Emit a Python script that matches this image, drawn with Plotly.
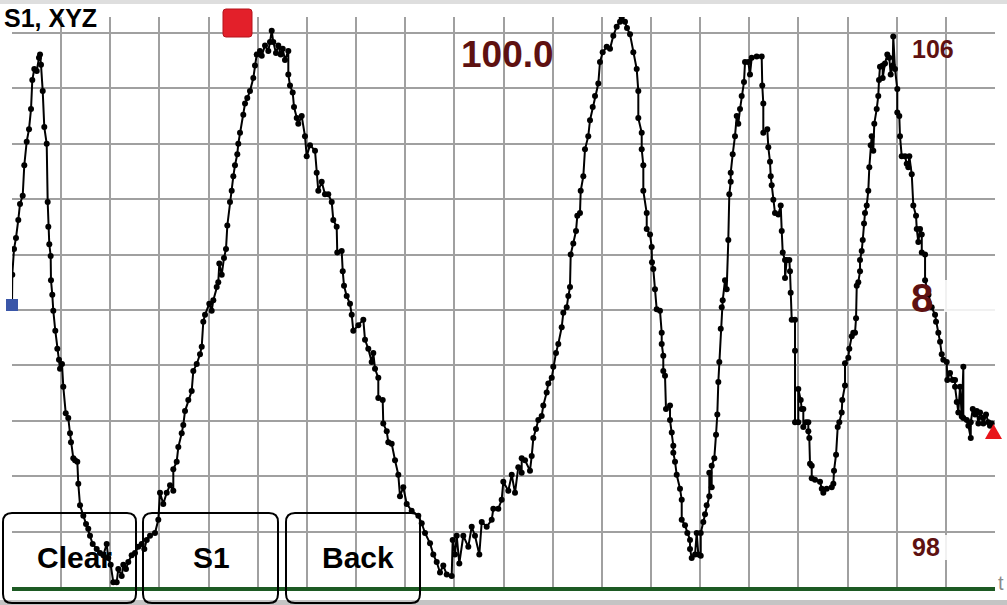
import plotly.graph_objects as go

# ---------------- data (time in s, level) ----------------
t_sec = [
    0, 0.06, 0.41, 0.81, 1.28, 1.63, 2.18, 2.50, 2.99, 3.46, 3.87, 4.13, 4.54, 5.03, 5.49, 5.70, 5.90,
    6.25, 6.57, 7.06, 7.26, 7.39, 7.59, 7.87, 7.93, 8.20, 8.40, 8.81, 9.22, 9.56, 9.77, 10.17, 10.44,
    10.93, 11.45, 11.80, 12.00, 12.47, 12.82, 13.29, 13.49, 13.84, 14.51, 15.06, 15.52, 15.87, 16.42,
    17.23, 17.90, 18.58, 19.27, 19.59, 20.08, 20.61, 21.30, 21.63, 22.32, 22.65, 23.19, 23.66, 24.35,
    25.03, 25.70, 26.39, 26.92, 27.41, 28.08,
    29.09, 29.77, 30.11, 30.78, 31.48, 32.15, 32.82, 32.82, 33.51, 33.84, 34.53, 34.85, 35.20, 35.87,
    36.56, 36.89, 37.58, 38.25, 38.60, 38.92, 39.27, 40.14, 40.63, 40.96, 41.65, 41.97, 42.18, 42.67,
    43.13, 43.54, 43.81, 44.35, 44.70, 45.03, 45.37, 45.84, 46.04, 46.39, 47.06, 47.41, 47.87, 48.42,
    49.10, 49.44, 49.79, 50.46, 50.81, 51.48, 52.15, 52.49, 52.84, 53.16, 53.71, 54.18, 54.67, 55.08,
    55.54, 56.22, 56.22, 56.56, 57.11, 57.38, 57.93, 58.25,
    58.94, 59.61, 59.96, 60.63, 61.65, 61.99, 62.32, 63.01, 63.68, 64.35, 65.05, 65.37, 66.06, 66.18,
    67.08, 67.29, 67.55, 68.10, 68.77, 69.12, 69.44, 70.46, 71.48, 71.82, 72.49, 73.18, 73.51, 73.86,
    74.53, 74.53, 75.42, 75.54, 76.24, 76.56, 77.25, 77.93, 78.60, 78.94, 79.61, 80.31, 81.32, 82.67,
    83.36, 84.03, 85.05, 85.72, 86.41, 87.08, 87.75, 88.45,
    89.46, 89.66, 90.13, 90.48, 91.01, 91.82, 92.84, 93.53, 94.20, 95.08, 95.57, 96.58, 97.60, 97.93,
    98.94, 99.63, 99.96, 100.98, 101.67, 102.34, 103.01, 103.70, 103.70, 104.38, 105.39, 105.74,
    106.07, 106.61, 107.08, 107.77, 108.10, 108.79, 109.12, 109.81, 110.13, 110.68, 111.15, 111.84,
    112.17, 112.86, 113.19, 113.53, 113.67, 114.20, 114.75, 115.02, 115.56, 115.71, 116.24, 116.58,
    117.25, 117.60, 118.15, 118.62, 119.29, 119.63, 120.18, 121.00, 121.67, 122.34, 123.03, 123.70,
    124.05, 124.72, 125.13,
    125.74, 126.41, 127.10, 127.43, 127.43, 128.12, 128.12, 128.45, 128.45, 129.14, 129.14, 129.81,
    130.15, 130.21, 130.48, 130.82, 131.17, 131.84, 132.19, 132.19, 132.51, 132.51, 132.86, 133.06,
    133.88, 133.88, 134.23, 134.55, 134.55, 134.90, 135.24, 135.91, 136.26, 136.26, 136.93, 137.40,
    137.95, 137.95, 138.29, 138.97, 139.31, 139.64, 140.13, 140.13, 140.65, 141.00, 141.34, 141.87,
    141.87, 142.36, 142.36, 142.89, 143.24, 143.50, 143.71, 143.91, 144.20, 144.40, 144.60, 145.07,
    145.41, 145.74, 145.94, 146.23, 146.23, 146.63, 147.10, 147.45, 147.77, 148.12, 148.46, 148.93,
    149.14, 149.81, 150.15, 150.50, 151.51, 152.53, 152.65, 152.86, 152.86, 153.67, 153.88, 154.22,
    154.37, 154.57, 154.90, 155.24, 155.92, 156.40, 156.61, 156.81, 157.28, 157.28, 157.62, 158.15,
    158.29, 158.43, 158.64, 159.31, 159.31, 159.31, 159.98, 159.98, 160.47, 160.67, 161.00, 161.00,
    161.55, 162.02, 162.02, 162.22, 162.36, 162.71, 162.71, 163.38,
    164.40, 164.75, 165.07, 165.76, 166.78, 167.11, 167.25, 167.66, 168.00, 168.33, 168.81, 168.93,
    169.48, 169.48, 170.15, 170.36, 170.85, 171.17, 171.52, 171.73, 171.87, 172.19, 172.54, 172.54,
    172.88, 173.09, 173.35, 173.55, 173.90, 174.22, 174.43, 174.71, 174.91, 175.24, 175.44, 175.93,
    176.25, 176.40, 176.60, 177.15, 177.15, 177.62, 178.09, 178.49, 178.78, 179.18, 179.30, 179.65,
    180.12, 180.12, 180.53, 180.67, 181.02, 181.69, 182.04, 182.36, 182.57, 183.06, 183.38, 183.93,
    184.08, 184.40, 184.75, 185.10, 185.10, 185.77, 185.77, 186.47, 187.12, 187.80, 188.00, 188.47,
    188.82, 189.16, 189.49, 190.18, 190.30, 190.85, 191.40, 191.87, 191.87, 192.22, 192.54, 192.89,
    193.23, 193.56, 193.56, 194.25, 194.58, 195.07, 195.07, 195.48, 195.95, 196.29, 196.62, 196.96,
    197.51, 197.63, 198.17, 198.64, 198.98, 199.33,
]

level = [
    102.07, 102.51, 102.88, 103.04, 103.30, 103.53, 103.65, 104.09, 104.43, 104.61, 104.90, 105.32, 105.48, 105.45, 105.64, 105.69, 105.54,
    105.16, 104.64, 104.40, 103.56, 103.20, 102.95, 102.78, 102.43, 102.22, 101.99, 101.70, 101.44, 101.28, 101.15, 101.22, 100.89,
    100.51, 100.44, 100.22, 100.09, 99.86, 99.83, 99.81, 99.49, 99.18, 99.03, 98.91, 98.84, 98.74, 98.62,
    98.55, 98.49, 98.46, 98.62, 98.42, 98.32, 98.07, 98.07, 98.26, 98.16, 98.32, 98.26, 98.36, 98.46,
    98.49, 98.58, 98.62, 98.55, 98.68, 98.74,
    98.78, 98.97, 99.36, 99.20, 99.36, 99.47, 99.39, 99.70, 99.81, 100.02, 100.22, 100.34, 100.54, 100.70,
    100.83, 101.12, 101.22, 101.36, 101.47, 101.83, 101.93, 102.09, 101.99, 102.14, 102.33, 102.40, 102.67, 102.51,
    102.75, 102.88, 103.22, 103.56, 103.72, 103.93, 104.09, 104.25, 104.40, 104.56, 104.82, 104.98, 105.06, 105.16,
    105.35, 105.53, 105.69, 105.74, 105.67, 105.82, 105.74, 105.87, 106.03, 105.87, 105.71, 105.82, 105.69, 105.77,
    105.61, 105.74, 105.40, 105.24, 105.14, 104.93, 104.77, 104.69,
    104.80, 104.51, 104.22, 104.38, 104.30, 103.98, 103.72, 103.85, 103.67, 103.67, 103.56, 103.30, 103.20, 102.83,
    102.85, 102.56, 102.35, 102.20, 102.09, 101.93, 101.70, 101.78, 101.86, 101.57, 101.44, 101.25, 101.38, 101.15,
    101.02, 100.73, 100.70, 100.36, 100.25, 100.09, 100.07, 99.83, 99.62, 99.31, 99.44, 99.20, 99.10, 99.03,
    98.92, 98.78, 98.63, 98.47, 98.36, 98.21, 98.31, 98.18,
    98.16, 98.68, 98.47, 98.74, 98.34, 98.74, 98.58, 98.87, 98.74, 98.47, 98.94, 98.87, 98.97, 99.13,
    99.13, 99.26, 99.52, 99.39, 99.62, 99.36, 99.73, 99.65, 99.86, 99.83, 99.68, 99.89,
    100.15, 100.28, 100.41, 100.47, 100.62, 100.81, 100.94, 101.02, 101.18, 101.38, 101.51, 101.75,
    101.96, 102.04, 102.20, 102.33, 102.80, 102.96, 103.14, 103.36, 103.40, 103.72, 103.93, 104.32,
    104.51, 104.74, 104.93, 105.09, 105.27, 105.58, 105.72, 105.80, 105.77, 105.96, 106.09, 106.16,
    106.22, 106.16, 106.07,
    105.98, 105.72, 105.48, 105.16, 104.77, 104.56, 104.32, 104.09, 103.72, 103.40, 103.17, 103.09,
    102.91, 102.69, 102.59, 102.30, 102.01, 101.99, 101.67, 101.51, 101.34, 101.12, 101.05, 100.57,
    100.62, 100.41, 100.23, 100.04, 99.94, 99.81, 99.62, 99.42, 99.26, 98.97, 98.89, 98.78,
    98.68, 98.55, 98.42, 98.47, 98.78, 98.47, 98.45, 98.78, 98.94, 99.05, 99.18, 99.31,
    99.65, 99.44, 99.75, 99.86, 100.20, 100.49, 100.96, 101.25, 101.73, 102.04, 102.14, 102.43,
    102.30, 103.01, 103.67, 103.85, 103.98, 104.25, 104.51, 104.80, 104.69, 104.90, 105.09, 105.29,
    105.58, 105.58, 105.40, 105.64, 105.66, 105.66, 105.24, 104.98, 104.56, 104.61, 104.35, 104.14,
    103.93, 103.80, 103.59, 103.40, 103.38, 103.51, 103.14, 102.83, 102.72, 102.46, 102.72, 102.72,
    102.56, 102.25, 101.86, 101.86, 101.41, 100.38, 100.38, 100.86, 100.70, 100.57, 100.57, 100.31,
    100.38, 100.38, 100.25, 100.15, 99.78, 99.75, 99.57, 99.55,
    99.52, 99.42, 99.36, 99.42, 99.44, 99.49, 99.68, 99.91, 100.31, 100.38, 100.52, 100.70,
    100.91, 101.23, 101.31, 101.44, 101.62, 101.67, 101.67, 101.88, 102.35, 102.40, 102.56, 102.72,
    102.85, 103.01, 103.25, 103.40, 103.51, 103.72, 104.06, 104.38, 104.51, 104.30, 104.69, 104.90,
    105.09, 105.32, 105.51, 105.53, 105.35, 105.56, 105.69, 105.64, 105.40, 105.53, 105.95, 105.48,
    105.19, 104.85, 104.80, 104.51, 104.22, 104.22, 104.11, 104.06, 104.22, 103.96, 103.51, 103.36,
    103.17, 102.98, 103.17, 103.09, 102.83, 102.80, 102.43, 102.22, 102.04, 101.93, 101.83, 101.67,
    101.54, 101.36, 101.28, 101.25, 100.99, 101.09, 100.99, 100.99, 100.89, 100.67, 100.52, 100.89,
    100.46, 101.18, 100.44, 100.41, 100.33, 100.15, 100.38, 100.57, 100.49, 100.54, 100.36, 100.52,
    100.44, 100.36, 100.49, 100.38, 100.33, 100.36,
]

title_text = "S1, XYZ"
current_value = "100.0"
scale_max_label = "106"
scale_min_label = "98"
side_label = "8"
axis_label = "t"
buttons = ["Clear", "S1", "Back"]

X_RANGE = [0, 200]
Y_RANGE = [98, 106.23]

# ---------------- figure ----------------
W, H = 1007, 605
L, R, T, B = 12, 12, 17, 18
PW, PH = W - L - R, H - T - B


def px2paper(px, py):
    return (px - L) / PW, (H - B - py) / PH


def rounded_rect(px0, py0, px1, py1, r):
    x0, y0 = px2paper(px0, py1)
    x1, y1 = px2paper(px1, py0)
    rx, ry = r / PW, r / PH
    return (f"M {x0+rx},{y0} L {x1-rx},{y0} Q {x1},{y0} {x1},{y0+ry} "
            f"L {x1},{y1-ry} Q {x1},{y1} {x1-rx},{y1} L {x0+rx},{y1} "
            f"Q {x0},{y1} {x0},{y1-ry} L {x0},{y0+ry} Q {x0},{y0} {x0+rx},{y0} Z")


fig = go.Figure()
fig.add_trace(go.Scatter(
    x=t_sec, y=level, mode="lines+markers",
    line=dict(color="black", width=2),
    marker=dict(color="black", size=6),
    hoverinfo="skip", showlegend=False,
))

shapes = []
x0, _ = px2paper(0, 0)
x1, _ = px2paper(W, 0)
shapes.append(dict(type="rect", xref="paper", yref="paper", x0=x0, x1=x1,
                   y0=px2paper(0, 0)[1], y1=px2paper(0, 4)[1], fillcolor="#dedede", line_width=0, layer="below"))
shapes.append(dict(type="rect", xref="paper", yref="paper", x0=x0, x1=x1,
                   y0=px2paper(0, 600)[1], y1=px2paper(0, 605)[1], fillcolor="#c4c4c4", line_width=0))
for (a, b, c, d) in [(955, 35, 995, 62), (944, 280, 996, 312), (943, 535, 996, 560)]:
    xa, ya = px2paper(a, d)
    xb, yb = px2paper(c, b)
    shapes.append(dict(type="rect", xref="paper", yref="paper", x0=xa, x1=xb, y0=ya, y1=yb,
                       fillcolor="rgba(255,255,255,0.85)", line_width=0))
for (a, c) in [(3, 136), (143, 278), (286, 420)]:
    shapes.append(dict(type="path", xref="paper", yref="paper", path=rounded_rect(a, 513, c, 603, 9),
                       line=dict(color="black", width=2), fillcolor="rgba(0,0,0,0)"))
shapes.append(dict(type="path", xref="paper", yref="paper", path=rounded_rect(223, 9, 252, 37, 3),
                   line=dict(color="#b5121b", width=1), fillcolor="#e3202a"))
xa, ya = px2paper(6, 311)
xb, yb = px2paper(18, 299)
shapes.append(dict(type="rect", xref="paper", yref="paper", x0=xa, x1=xb, y0=ya, y1=yb,
                   fillcolor="#3a56a8", line_width=0))
p1 = px2paper(985, 439)
p2 = px2paper(1002, 439)
p3 = px2paper(993.5, 424)
shapes.append(dict(type="path", xref="paper", yref="paper",
                   path=f"M {p1[0]},{p1[1]} L {p2[0]},{p2[1]} L {p3[0]},{p3[1]} Z",
                   fillcolor="#e8151b", line_width=0))

annotations = []
LABEL_RED = "#5e1111"


def ann(text, px, py, size, color, xanchor="center", bold=True):
    x, y = px2paper(px, py)
    annotations.append(dict(text=f"<b>{text}</b>" if bold else text, x=x, y=y, xref="paper", yref="paper",
                            showarrow=False, xanchor=xanchor, yanchor="middle",
                            font=dict(family="Liberation Sans, Arial", size=size, color=color)))


ann(title_text, 2, 18, 25, "black", xanchor="left")
ann(current_value, 507, 55, 37, LABEL_RED)
ann(scale_max_label, 933, 49, 25, LABEL_RED)
ann(scale_min_label, 926, 547, 25, LABEL_RED)
ann(side_label, 922, 298, 40, LABEL_RED)
ann(axis_label, 1006, 583, 20, "#8a8a8a", xanchor="right", bold=False)
for label, cx in zip(buttons, [74, 211, 358]):
    ann(label, cx, 557, 30, "black")

grid = "#a0a0a0"
fig.update_layout(
    width=W, height=H,
    margin=dict(l=L, r=R, t=T, b=B),
    paper_bgcolor="white", plot_bgcolor="white",
    shapes=shapes, annotations=annotations,
    xaxis=dict(range=X_RANGE, tick0=0, dtick=10, showgrid=True, gridcolor=grid, gridwidth=1.5,
               showticklabels=False, zeroline=False, showline=True, linecolor="#1d5a23", linewidth=4,
               ticks=""),
    yaxis=dict(range=Y_RANGE, tick0=98, dtick=0.8, showgrid=True, gridcolor=grid, gridwidth=1.5,
               showticklabels=False, zeroline=False, showline=False, ticks=""),
)

fig.write_html("out.html", config={"displayModeBar": False},
               post_script="document.body.style.margin='0';")
